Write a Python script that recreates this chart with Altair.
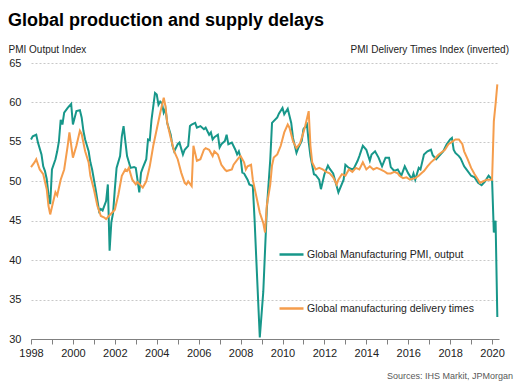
import altair as alt
import pandas as pd

# ---------------- data ----------------
output_months = [
    "1998-01", "1998-02", "1998-04", "1998-05", "1998-07", "1998-08", "1998-09", "1998-10", "1998-11", "1998-12",
    "1999-01", "1999-03", "1999-04", "1999-05", "1999-06", "1999-07", "1999-08", "1999-10", "1999-12",
    "2000-01", "2000-03", "2000-05", "2000-06", "2000-07", "2000-08", "2000-10", "2000-11", "2000-12",
    "2001-02", "2001-04", "2001-05", "2001-06", "2001-08", "2001-09", "2001-10", "2001-11", "2001-12",
    "2002-01", "2002-02", "2002-04", "2002-05", "2002-06", "2002-07", "2002-08", "2002-10", "2002-12",
    "2003-01", "2003-03", "2003-04", "2003-05", "2003-07", "2003-08", "2003-09", "2003-10", "2003-12",
    "2004-01", "2004-02", "2004-03", "2004-04", "2004-05", "2004-06", "2004-07", "2004-09", "2004-10", "2004-11",
    "2005-01", "2005-02", "2005-04", "2005-05", "2005-07", "2005-08", "2005-09", "2005-11", "2005-12",
    "2006-02", "2006-04", "2006-05", "2006-07", "2006-08", "2006-09", "2006-10", "2006-12",
    "2007-01", "2007-02", "2007-04", "2007-05", "2007-06", "2007-08", "2007-10", "2007-11", "2007-12",
    "2008-01", "2008-02", "2008-03", "2008-05", "2008-06", "2008-08", "2008-09", "2008-10", "2008-12",
    "2009-02", "2009-04", "2009-06", "2009-07", "2009-10", "2009-11",
    "2010-01", "2010-02", "2010-04", "2010-06", "2010-07", "2010-09", "2010-10", "2010-12",
    "2011-01", "2011-03", "2011-04", "2011-05", "2011-07", "2011-08", "2011-10", "2011-11",
    "2012-01", "2012-03", "2012-04", "2012-06", "2012-08", "2012-09", "2012-12",
    "2013-01", "2013-03", "2013-05", "2013-06", "2013-08", "2013-09", "2013-11",
    "2014-01", "2014-03", "2014-04", "2014-06", "2014-08", "2014-10", "2014-12",
    "2015-02", "2015-03", "2015-05", "2015-07", "2015-09", "2015-11",
    "2016-01", "2016-03", "2016-04", "2016-05", "2016-07", "2016-08", "2016-10", "2016-12",
    "2017-02", "2017-03", "2017-05", "2017-07", "2017-09", "2017-11",
    "2018-01", "2018-02", "2018-03", "2018-04", "2018-06", "2018-07", "2018-09", "2018-10",
    "2019-01", "2019-03", "2019-05", "2019-07", "2019-09", "2019-11",
    "2020-01", "2020-02", "2020-03", "2020-04",
]
output_values = [
    55.3, 55.7, 55.9, 54.9, 53.4, 51.9, 51.3, 50.3, 48.3, 47.1,
    51.5, 52.8, 53.8, 55.1, 57.8, 57.2, 58.7, 59.3, 59.8,
    57.2, 58.9, 59.0, 58.1, 56.4, 55.3, 53.8, 52.4, 51.5,
    49.0, 46.2, 46.5, 46.3, 47.5, 49.6, 41.2, 44.8, 46.0,
    49.0, 51.7, 53.2, 55.7, 57.0, 55.1, 53.2, 51.7, 51.8,
    51.7, 48.6, 51.1, 51.7, 52.8, 55.3, 55.2, 57.8, 61.2,
    61.0, 59.7, 60.1, 59.9, 58.7, 59.2, 57.4, 55.9, 54.5, 53.8,
    54.7, 54.9, 53.4, 54.0, 54.5, 57.0, 57.2, 57.4, 56.8,
    57.0, 56.6, 56.8, 55.9, 56.2, 55.3, 55.6, 55.9,
    54.3, 54.7, 55.1, 55.9, 54.7, 54.9, 54.0, 53.4, 53.8,
    53.0, 51.1, 51.0, 50.2, 49.6, 49.4, 45.2, 40.1, 30.2,
    36.0, 46.4, 52.8, 57.4, 58.1, 58.6,
    59.3, 58.5, 59.2, 57.4, 55.5, 53.6, 54.2, 55.1,
    56.6, 57.2, 55.0, 53.2, 50.9, 50.8, 50.2, 49.0,
    50.9, 52.0, 51.6, 51.0, 49.4, 48.6, 50.2,
    52.1, 51.7, 51.5, 51.7, 52.6, 53.2, 54.5,
    54.0, 52.6, 53.4, 53.8, 53.0, 51.9, 53.0,
    53.0, 51.8, 51.3, 51.5, 50.7, 51.9,
    51.0, 50.3, 51.0, 50.2, 51.7, 51.5, 53.4, 53.8,
    54.0, 53.3, 52.8, 53.3, 53.8, 54.7,
    55.3, 55.5, 54.0, 53.6, 53.2, 52.9, 51.9, 51.6,
    50.7, 50.5, 49.8, 49.5, 50.0, 50.7,
    50.2, 43.5, 45.0, 32.8,
]

delivery_months = [
    "1998-01", "1998-03", "1998-04", "1998-06", "1998-08", "1998-10", "1998-11", "1998-12",
    "1999-02", "1999-03", "1999-04", "1999-06", "1999-08", "1999-10", "1999-11",
    "2000-01", "2000-03", "2000-05", "2000-06", "2000-08", "2000-10", "2000-11",
    "2001-01", "2001-03", "2001-05", "2001-07", "2001-08", "2001-10",
    "2002-01", "2002-03", "2002-05", "2002-07", "2002-08", "2002-09", "2002-11",
    "2003-01", "2003-02", "2003-05", "2003-07", "2003-09", "2003-11",
    "2004-01", "2004-03", "2004-05", "2004-06", "2004-07", "2004-09", "2004-11",
    "2005-01", "2005-03", "2005-05", "2005-06", "2005-07", "2005-09", "2005-10", "2005-12",
    "2006-02", "2006-04", "2006-05", "2006-07", "2006-09", "2006-10", "2006-12",
    "2007-02", "2007-04", "2007-05", "2007-08", "2007-09", "2007-12",
    "2008-01", "2008-03", "2008-04", "2008-05", "2008-07", "2008-08", "2008-10", "2008-12",
    "2009-02", "2009-03", "2009-04", "2009-06", "2009-07", "2009-08", "2009-10", "2009-12",
    "2010-02", "2010-04", "2010-05", "2010-07", "2010-09", "2010-11",
    "2011-01", "2011-02", "2011-04", "2011-05", "2011-06", "2011-08", "2011-10", "2011-12",
    "2012-02", "2012-04", "2012-06", "2012-08", "2012-09", "2012-11",
    "2013-01", "2013-03", "2013-05", "2013-07", "2013-09", "2013-11",
    "2014-01", "2014-03", "2014-05", "2014-07", "2014-09", "2014-11",
    "2015-01", "2015-03", "2015-05", "2015-07", "2015-08", "2015-10", "2015-12",
    "2016-02", "2016-03", "2016-05", "2016-07", "2016-09", "2016-10", "2016-12",
    "2017-02", "2017-04", "2017-06", "2017-07", "2017-10", "2017-12",
    "2018-02", "2018-04", "2018-06", "2018-08", "2018-09", "2018-11",
    "2019-01", "2019-03", "2019-05", "2019-06", "2019-08", "2019-10", "2019-12",
    "2020-01", "2020-02", "2020-03", "2020-04",
]
delivery_values = [
    51.8, 52.4, 52.8, 51.5, 50.9, 49.0, 46.9, 45.8,
    47.7, 48.6, 48.2, 50.2, 51.5, 54.5, 56.2,
    53.0, 54.5, 56.4, 56.0, 53.8, 52.4, 50.7,
    49.0, 46.9, 45.6, 45.4, 45.2, 45.7,
    46.4, 48.3, 50.7, 51.5, 51.3, 51.7, 50.2,
    49.6, 49.9, 49.2, 50.0, 51.9, 54.5,
    56.6, 58.7, 60.6, 59.5, 57.4, 55.5, 53.8,
    52.8, 51.1, 49.8, 49.6, 50.0, 49.4, 54.5, 52.6,
    52.8, 54.0, 54.2, 54.0, 53.2, 53.8, 53.4,
    52.1, 51.5, 51.3, 51.5, 52.1, 53.0,
    53.2, 52.4, 51.5, 51.9, 52.1, 50.2, 48.1, 46.0,
    44.7, 43.5, 46.9, 49.6, 52.0, 53.0, 53.4, 54.5,
    56.2, 57.2, 56.8, 55.1, 54.2, 54.8,
    56.2, 57.0, 58.9, 54.5, 52.4, 51.5, 51.7, 51.5,
    51.2, 51.0, 50.5, 49.6, 50.2, 50.9,
    50.7, 51.5, 51.2, 51.7, 51.5, 52.4,
    51.5, 51.9, 51.5, 51.7, 51.5, 51.3,
    51.0, 51.0, 51.2, 51.0, 50.7, 50.4, 50.5,
    50.2, 50.3, 50.4, 50.7, 51.1, 51.3, 51.9,
    52.4, 52.8, 53.3, 53.5, 54.0, 54.7,
    55.0, 55.3, 55.3, 54.7, 53.8, 52.8,
    51.7, 50.9, 50.2, 49.8, 50.0, 50.2, 50.2,
    50.2, 57.6, 59.8, 62.3,
]

series_names = ["Global Manufacturing PMI, output", "Global manufacturing delivery times"]
series_colors = ["#17978a", "#f59d4c"]
y_ticks = [30, 35, 40, 45, 50, 55, 60, 65]
x_ticks = list(range(1998, 2021))

title_text = "Global production and supply delays"
left_label = "PMI Output Index"
right_label = "PMI Delivery Times Index (inverted)"
source_text = "Sources: IHS Markit, JPMorgan"

FONT = "Liberation Sans"


def to_year(m):
    y, mo = m.split("-")
    return int(y) + (int(mo) - 1) / 12.0


rows = []
for m, v in zip(output_months, output_values):
    rows.append({"t": to_year(m), "v": v, "s": series_names[0]})
for m, v in zip(delivery_months, delivery_values):
    rows.append({"t": to_year(m), "v": v, "s": series_names[1]})
df = pd.DataFrame(rows)

base = alt.Chart(df).mark_line(strokeWidth=2).encode(
    x=alt.X(
        "t:Q",
        scale=alt.Scale(domain=[1998, 2020.33], nice=False, zero=False),
        axis=alt.Axis(
            values=x_ticks,
            labelExpr="datum.value % 2 == 0 ? datum.value + '' : ''",
            grid=False,
            domainColor="#808080",
            tickColor="#808080",
            tickSize=5,
            labelFontSize=11,
            labelPadding=3,
            labelColor="#222222",
            labelFont=FONT,
            labelFlush=False,
            labelOverlap=False,
            title=None,
        ),
    ),
    y=alt.Y(
        "v:Q",
        scale=alt.Scale(domain=[30, 65], nice=False, zero=False),
        axis=alt.Axis(
            values=y_ticks,
            grid=True,
            gridDash=[2, 2],
            gridColor="#c8c8c8",
            domain=False,
            ticks=False,
            labelPadding=10,
            labelFontSize=11,
            labelColor="#222222",
            labelFont=FONT,
            format="d",
            title=None,
        ),
    ),
    color=alt.Color(
        "s:N",
        scale=alt.Scale(domain=series_names, range=series_colors),
        legend=alt.Legend(
            orient="none",
            legendX=247,
            legendY=178,
            direction="vertical",
            title=None,
            symbolType="stroke",
            symbolSize=576,
            symbolStrokeWidth=2.5,
            labelFontSize=10.5,
            labelFont=FONT,
            labelColor="#222222",
            labelOffset=2,
            labelLimit=0,
            rowPadding=35,
            padding=0,
        ),
    ),
)

out_line = base.transform_filter(alt.datum.s == series_names[0])
del_line = base.transform_filter(alt.datum.s == series_names[1])


def text_layer(txt, x, y, size, align="left", weight="normal", color="#222222"):
    return alt.Chart(alt.Data(values=[{"label": txt}])).mark_text(
        align=align, baseline="alphabetic", fontSize=size, fontWeight=weight,
        font=FONT, color=color,
    ).encode(text="label:N", x=alt.value(x), y=alt.value(y))


title = text_layer(title_text, -23, -37, 18, weight="bold", color="#000000")
lab_left = text_layer(left_label, -22.5, -10, 10, color="#222222")
lab_right = text_layer(right_label, 478, -10, 10, align="right", color="#222222")
source = text_layer(source_text, 482, 316, 9, align="right", color="#595959")

chart = alt.layer(out_line, del_line, title, lab_left, lab_right, source).properties(
    width=468,
    height=276,
    autosize=alt.AutoSizeParams(type="none"),
    padding={"left": 23, "top": 55, "right": 20, "bottom": 44},
).configure_view(stroke=None)

chart.save("out.html", embed_options={"renderer": "svg", "actions": False})
